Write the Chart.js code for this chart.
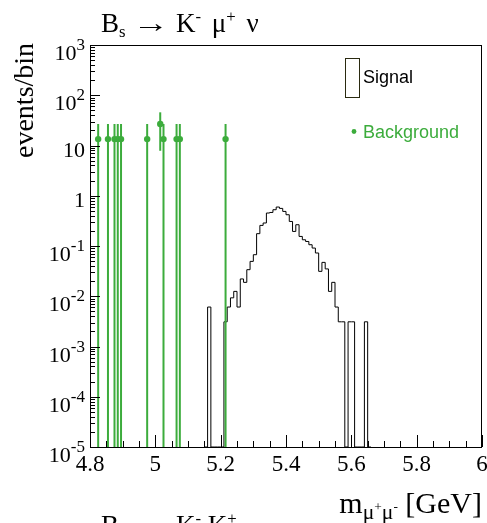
<!DOCTYPE html>
<html>
<head>
<meta charset="utf-8">
<script src="https://cdn.jsdelivr.net/npm/chart.js@4.4.0/dist/chart.umd.min.js"></script>
<style>
  html, body { margin: 0; padding: 0; background: #fff; }
  #wrap { position: relative; width: 487px; height: 523px; overflow: hidden; }
  #wrap canvas { position: absolute; left: 0; top: 0; }
  .tx { position: absolute; font-family: "Liberation Serif", "DejaVu Serif", serif; color: #000; white-space: nowrap; line-height: 1; }
  .sb { font-size: 0.62em; position: relative; top: 0.3em; }
  .sp { font-size: 0.62em; position: relative; top: -0.6em; }
  .arr { display: inline-block; transform: scaleX(1.35); margin: 0 5px; }
  .gap { margin-left: 4px; }
</style>
</head>
<body>
<div id="wrap">
  <canvas id="massChart" width="487" height="523"></canvas>
  <div class="tx" id="title" style="left:101px; top:10px; font-size:27px;">B<span class="sb">s</span> <span class="arr">&rarr;</span> K<span class="sp">-</span> <span class="gap">&mu;</span><span class="sp">+</span> <span class="gap">&nu;</span></div>
  <div class="tx" id="ytitle" style="left:10px; top:160px; font-size:28px; transform:rotate(-90deg); transform-origin:0 0;">events/bin</div>
  <div class="tx" id="xtitle" style="right:5px; top:488px; font-size:30px;">m<span class="sb" style="font-size:0.72em">&mu;<span class="sp">+</span>&mu;<span class="sp">-</span></span> [GeV]</div>
  <div class="tx" id="nexttitle" style="left:101px; top:512px; font-size:27px;">B<span class="sb">s</span> <span class="arr">&rarr;</span> K<span class="sp">-</span> K<span class="sp">+</span></div>
</div>
<script>
/*global Chart, document*/
'use strict';

// signal histogram: 0.01 GeV bins, lower edges (last one closes the range)
var sigEdges = [5.15, 5.16, 5.17, 5.18, 5.19, 5.20, 5.21, 5.22, 5.23, 5.24,
                5.25, 5.26, 5.27, 5.28, 5.29, 5.30, 5.31, 5.32, 5.33, 5.34,
                5.35, 5.36, 5.37, 5.38, 5.39, 5.40, 5.41, 5.42, 5.43, 5.44,
                5.45, 5.46, 5.47, 5.48, 5.49, 5.50, 5.51, 5.52, 5.53, 5.54,
                5.55, 5.56, 5.57, 5.58, 5.59, 5.60, 5.61, 5.62, 5.63, 5.64,
                5.65, 5.66];
var sigCounts = [0, 0.0061, 0, 0, 0, 0, 0.0031, 0.0061, 0.0093, 0.0125,
                 0.0061, 0.0221, 0.0189, 0.0338, 0.0494, 0.0671, 0.176, 0.257, 0.287, 0.453,
                 0.465, 0.527, 0.596, 0.56, 0.488, 0.419, 0.308, 0.195, 0.265, 0.155,
                 0.133, 0.123, 0.106, 0.091, 0.0726, 0.0313, 0.0472, 0.035, 0.0125, 0.0189,
                 0.0061, 0.0031, 0.0031, 0, 0.0031, 0.0031, 0, 0, 0, 0.0031,
                 0];

// background events (points with errors)
var bgMass = [4.825, 4.855, 4.875, 4.885, 4.895, 4.975, 5.015, 5.025, 5.065, 5.075, 5.215];
var bgCounts = [13.4, 13.4, 13.4, 13.4, 13.4, 13.4, 26.8, 13.4, 13.4, 13.4, 13.4];
var bgErrors = [13.4, 13.4, 13.4, 13.4, 13.4, 13.4, 18.95, 13.4, 13.4, 13.4, 13.4];

var xTickLabels = [4.8, 5, 5.2, 5.4, 5.6, 5.8, 6];
var yTickExps = [-5, -4, -3, -2, -1, 0, 1, 2, 3];

var bgColor = '#3cac3c';
var yFloor = 1e-5;

var sigPoints = [];
for (var i = 0; i < sigEdges.length; i++) {
    var c = i < sigCounts.length ? sigCounts[i] : 0;
    sigPoints.push({ x: sigEdges[i], y: c > 0 ? c : yFloor });
}
var bgPoints = [];
for (i = 0; i < bgMass.length; i++) {
    bgPoints.push({ x: bgMass[i], y: bgCounts[i] });
}

var serif = '"Liberation Serif", "DejaVu Serif", serif';
var sans = '"Liberation Sans", Arial, sans-serif';

// vertical error bars on the background points
var errorBars = {
    id: 'errorBars',
    afterDatasetsDraw: function (chart) {
        var ctx = chart.ctx, xs = chart.scales.x, ys = chart.scales.y, a = chart.chartArea;
        ctx.save();
        ctx.beginPath();
        ctx.rect(a.left, a.top, a.right - a.left, a.bottom - a.top);
        ctx.clip();
        ctx.strokeStyle = bgColor;
        ctx.lineWidth = 2;
        for (var i = 0; i < bgMass.length; i++) {
            var px = xs.getPixelForValue(bgMass[i]);
            var hi = ys.getPixelForValue(bgCounts[i] + bgErrors[i]);
            var low = bgCounts[i] - bgErrors[i];
            var lo = low > 0 ? ys.getPixelForValue(low) : a.bottom;
            ctx.beginPath();
            ctx.moveTo(px, hi);
            ctx.lineTo(px, lo);
            ctx.stroke();
        }
        ctx.restore();
    }
};

// ROOT style frame, inward ticks, labels and legend
var frameAxes = {
    id: 'frameAxes',
    afterDraw: function (chart) {
        var ctx = chart.ctx, xs = chart.scales.x, ys = chart.scales.y, a = chart.chartArea;
        var d, m, k, px, py;
        ctx.save();
        ctx.strokeStyle = '#000';
        ctx.lineWidth = 1;
        ctx.strokeRect(a.left + 0.5, a.top + 0.5, a.right - a.left - 1, a.bottom - a.top);

        ctx.beginPath();
        for (d = -5; d <= 2; d++) {
            for (m = 1; m <= 9; m++) {
                py = Math.round(ys.getPixelForValue(m * Math.pow(10, d))) + 0.5;
                ctx.moveTo(a.left, py);
                ctx.lineTo(a.left + (m === 1 ? 10 : 5), py);
            }
        }
        for (k = 0; k <= 24; k++) {
            px = Math.round(xs.getPixelForValue(4.8 + k * 0.05)) + 0.5;
            ctx.moveTo(px, a.bottom);
            ctx.lineTo(px, a.bottom - (k % 4 === 0 ? 12 : 6));
        }
        ctx.stroke();

        // y labels
        ctx.fillStyle = '#000';
        ctx.textBaseline = 'alphabetic';
        var right = a.left - 5;
        yTickExps.forEach(function (e) {
            var ty = ys.getPixelForValue(Math.pow(10, e));
            ctx.font = '22px ' + serif;
            if (e === 0 || e === 1) {
                ctx.textAlign = 'right';
                ctx.fillText(e === 0 ? '1' : '10', right, ty + 11);
                return;
            }
            ctx.font = '17px ' + serif;
            var expTxt = e < 0 ? '-' + (-e) : String(e);
            var we = ctx.measureText(expTxt).width;
            ctx.textAlign = 'left';
            ctx.fillText(expTxt, right - we, ty + 5);
            ctx.font = '22px ' + serif;
            ctx.textAlign = 'right';
            ctx.fillText('10', right - we, ty + 15);
        });

        // x labels
        ctx.font = '23px ' + serif;
        ctx.textAlign = 'center';
        xTickLabels.forEach(function (v) {
            ctx.fillText(String(v), xs.getPixelForValue(v), a.bottom + 24);
        });

        // legend
        ctx.strokeStyle = '#2a2a10';
        ctx.strokeRect(345.5, 58.5, 14, 39);
        ctx.font = '18px ' + sans;
        ctx.textAlign = 'left';
        ctx.fillStyle = '#000';
        ctx.fillText('Signal', 363, 83);
        ctx.fillStyle = bgColor;
        ctx.beginPath();
        ctx.arc(354, 131.5, 2.4, 0, Math.PI * 2);
        ctx.fill();
        ctx.fillText('Background', 363, 138);
        ctx.restore();
    }
};

var chart = new Chart(document.getElementById('massChart'), {
    type: 'scatter',
    data: {
        datasets: [
            {
                label: 'Signal',
                data: sigPoints,
                showLine: true,
                stepped: 'before',
                borderColor: '#000',
                borderWidth: 1,
                pointRadius: 0,
                fill: false
            },
            {
                label: 'Background',
                data: bgPoints,
                showLine: false,
                pointRadius: 3.2,
                pointBackgroundColor: bgColor,
                pointBorderWidth: 0
            }
        ]
    },
    options: {
        responsive: false,
        animation: false,
        events: [],
        layout: { padding: { left: 90, right: 5, top: 45, bottom: 76 } },
        scales: {
            x: { type: 'linear', min: 4.8, max: 6, display: false },
            y: { type: 'logarithmic', min: 1e-5, max: 1e3, display: false }
        },
        plugins: { legend: { display: false }, tooltip: { enabled: false } }
    },
    plugins: [errorBars, frameAxes]
});

// y title: end of text sits at the top of the frame
var yt = document.getElementById('ytitle');
yt.style.top = (43 + yt.offsetWidth) + 'px';
</script>
</body>
</html>
